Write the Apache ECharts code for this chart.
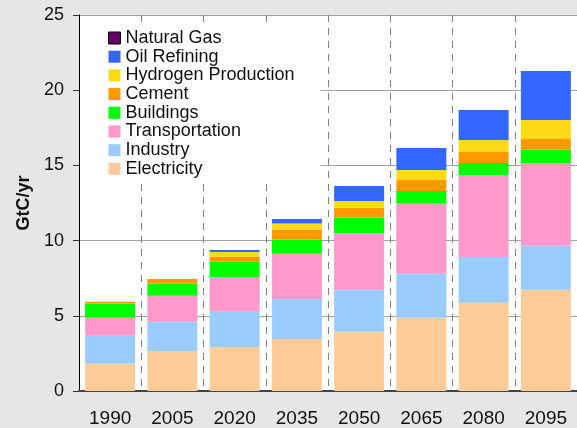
<!DOCTYPE html>
<html>
<head>
<meta charset="utf-8">
<script src="https://cdn.jsdelivr.net/npm/echarts@6/dist/echarts.min.js"></script>
<title>GtC/yr</title>
<style>
  html, body { margin: 0; padding: 0; background: #e6e6e6; }
  #main { width: 577px; height: 428px; }
</style>
</head>
<body>
<div id="main"></div>
<script type="text/javascript">
    // values, GtC/yr
    var years = ['1990', '2005', '2020', '2035', '2050', '2065', '2080', '2095'];
    var electricity    = [1.82, 2.66, 2.93, 3.46, 3.94, 4.87, 5.87, 6.74];
    var industry       = [1.86, 1.95, 2.34, 2.66, 2.80, 2.93, 3.04, 2.92];
    var transportation = [1.19, 1.73, 2.31, 3.01, 3.77, 4.65, 5.45, 5.50];
    var buildings      = [0.94, 0.80, 1.02, 0.93, 1.01, 0.85, 0.80, 0.89];
    var cement         = [0.13, 0.31, 0.33, 0.67, 0.67, 0.73, 0.73, 0.71];
    var hydrogen       = [0, 0, 0.31, 0.40, 0.44, 0.66, 0.80, 1.26];
    var oilRefining    = [0, 0, 0.14, 0.31, 1.00, 1.47, 1.99, 3.26];
    var naturalGas     = [0, 0, 0, 0, 0, 0, 0, 0];

    var font = "'Liberation Sans', Arial, sans-serif";

    var myChart = echarts.init(document.getElementById('main'));

    function bar(name, data, color) {
        return {
            name: name,
            type: 'bar',
            stack: 'total',
            barWidth: 50,
            data: data,
            itemStyle: { color: color }
        };
    }

    var option = {
        animation: false,
        backgroundColor: '#e6e6e6',
        textStyle: { fontFamily: font },
        grid: {
            show: true,
            left: 79,
            top: 15,
            width: 504,
            bottom: 37,
            backgroundColor: '#fff',
            borderWidth: 0
        },
        legend: {
            orient: 'vertical',
            left: 80,
            top: 25,
            padding: [4, 26, 6, 28],
            backgroundColor: '#fff',
            icon: 'rect',
            itemWidth: 12,
            itemHeight: 12,
            itemGap: 0.7,
            textStyle: { fontSize: 18, color: '#111', fontFamily: font },
            data: [
                { name: 'Natural Gas', itemStyle: { borderColor: '#000', borderWidth: 1 } },
                'Oil Refining', 'Hydrogen Production', 'Cement',
                'Buildings', 'Transportation', 'Industry', 'Electricity'
            ]
        },
        xAxis: {
            type: 'category',
            data: years,
            axisLine: { lineStyle: { color: '#444', width: 2 } },
            axisTick: { length: 6, lineStyle: { color: '#222' } },
            axisLabel: { fontSize: 19, color: '#111', margin: 18 },
            splitLine: { show: true, lineStyle: { color: '#808080', type: [7, 6], width: 1 } }
        },
        yAxis: {
            type: 'value',
            min: 0,
            max: 25,
            interval: 5,
            name: 'GtC/yr',
            nameLocation: 'middle',
            nameGap: 46,
            nameTextStyle: { fontSize: 18, fontWeight: 'bold', color: '#111' },
            axisLine: { show: true, lineStyle: { color: '#000', width: 1 } },
            axisTick: { show: true, length: 6, lineStyle: { color: '#333' } },
            axisLabel: { fontSize: 18, color: '#111', margin: 15 },
            splitLine: { lineStyle: { color: '#a0a0a0', width: 1 } }
        },
        series: [
            bar('Electricity', electricity, '#ffcc99'),
            bar('Industry', industry, '#99ccff'),
            bar('Transportation', transportation, '#ff99cc'),
            bar('Buildings', buildings, '#00ff00'),
            bar('Cement', cement, '#ff9900'),
            bar('Hydrogen Production', hydrogen, '#ffda16'),
            bar('Oil Refining', oilRefining, '#3366ff'),
            bar('Natural Gas', naturalGas, '#660066')
        ]
    };
    myChart.setOption(option);
</script>
</body>
</html>
